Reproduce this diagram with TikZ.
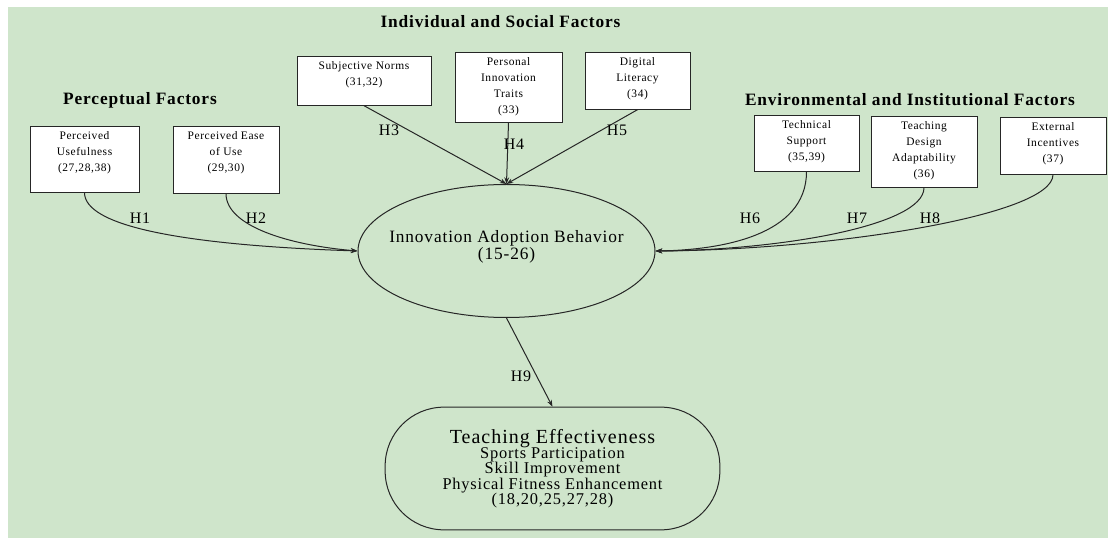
\documentclass[tikz,border=0pt]{standalone}
\usepackage{fontspec}
\setmainfont{Liberation Serif}[LetterSpace=5]
\usetikzlibrary{arrows.meta,positioning,shapes.geometric}
\definecolor{bggreen}{HTML}{CFE5CB}
\definecolor{inkgray}{HTML}{262626}

\begin{document}
\begin{tikzpicture}[
    x=0.75pt,y=-0.75pt,
    fbox/.style={draw=inkgray,fill=white,line width=0.6pt,anchor=north,align=center,inner sep=3.5pt,font=\fontsize{8.6}{12}\selectfont},
    grp/.style={font=\bfseries\fontsize{13}{15}\selectfont},
    hyp/.style={font=\fontsize{12}{14}\selectfont},
    arr/.style={-{Stealth[length=5pt,width=3.6pt]},line width=0.75pt,inkgray}
]
\useasboundingbox (0,0) rectangle (1108,538);
\fill[bggreen] (8,7) rectangle (1108,538);

% group headings
\node[grp] (gis) at (500.5,22) {Individual and Social Factors};
\node[grp] (gpf) at (140,100) {Perceptual Factors};
\node[grp] (gei) at (910,100) {Environmental and Institutional Factors};

% factor boxes
\node[fbox,minimum width=81.75pt,text depth=12.4pt] (pu) at (84.5,126) {Perceived\\Usefulness\\(27,28,38)};
\node[fbox,minimum width=79.5pt,text depth=13.2pt] (peu) at (226,126) {Perceived Ease\\of Use\\(29,30)};
\node[fbox,minimum width=100.5pt,text depth=11.7pt] (sn) at (364,56) {Subjective Norms\\(31,32)};
\node[fbox,minimum width=80.25pt,text depth=3.5pt] (pit) at (508.5,52) {Personal\\Innovation\\Traits\\(33)};
\node[fbox,minimum width=78.75pt,text depth=5.7pt] (dl) at (637.5,52) {Digital\\Literacy\\(34)};
\node[fbox,minimum width=78.75pt,text depth=5pt] (ts) at (806.5,115) {Technical\\Support\\(35,39)};
\node[fbox,minimum width=79.5pt,text depth=4.2pt] (tda) at (924,116) {Teaching\\Design\\Adaptability\\(36)};
\node[fbox,minimum width=79.5pt,text depth=5.7pt] (ei) at (1053,117) {External\\Incentives\\(37)};

% central construct and outcome
\node[draw=inkgray,line width=0.75pt,ellipse,minimum width=222.75pt,minimum height=99.75pt,
      inner xsep=-14pt,inner ysep=0pt,
      align=center,text depth=8.5pt,font=\fontsize{13}{12.75}\selectfont] (iab) at (506.5,251)
      {Innovation Adoption Behavior\\(15-26)};
\node[draw=inkgray,line width=0.75pt,rounded corners=44pt,minimum width=251pt,minimum height=92pt,
      align=center,font=\fontsize{12.3}{11.5}\selectfont] (te) at (552.5,468.5)
      {{\fontsize{15}{15}\selectfont Teaching Effectiveness}\\Sports Participation\\Skill Improvement\\Physical Fitness Enhancement\\(18,20,25,27,28)};

% hypotheses
\draw[arr] (pu.south) .. controls +(0,33) and +(-178,-6) .. (iab.west);
\draw[arr] (peu.south) .. controls +(0,32) and +(-70,-6) .. (iab.west);
\draw[arr] (sn.south) -- (iab.north);
\draw[arr] (pit.south) -- (iab.north);
\draw[arr] (dl.south) -- (iab.north);
\draw[arr] (ts.south) .. controls +(0,64) and +(65,-1) .. (iab.east);
\draw[arr] (tda.south) .. controls +(0,38) and +(125,-1) .. (iab.east);
\draw[arr] (ei.south) .. controls +(0,41) and +(175,-1) .. (iab.east);
\draw[arr] (iab.south) -- (te.north);

\node[hyp] (h1) at (140,218) {H1};
\node[hyp] (h2) at (256,218) {H2};
\node[hyp] (h3) at (389,130) {H3};
\node[hyp] (h4) at (514,144) {H4};
\node[hyp] (h5) at (617,130) {H5};
\node[hyp] (h6) at (750,218) {H6};
\node[hyp] (h7) at (857,218) {H7};
\node[hyp] (h8) at (930,218) {H8};
\node[hyp] (h9) at (521,376) {H9};
\end{tikzpicture}
\end{document}
